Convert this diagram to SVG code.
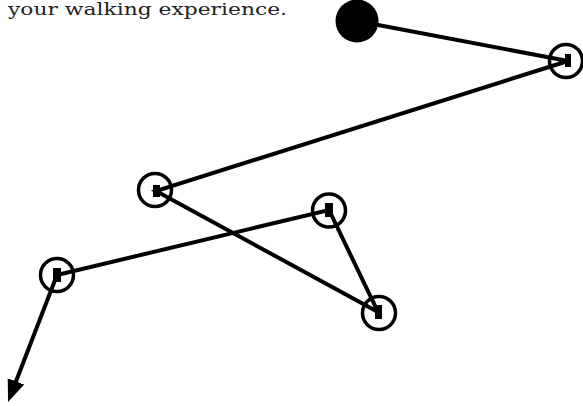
<svg xmlns="http://www.w3.org/2000/svg" width="583" height="406" viewBox="0 0 583 406">
<style>
.edge{stroke:#000;stroke-width:4;fill:none}
.ring{fill:#fff;stroke:#000;stroke-width:3.5}
.pt{fill:#000}
.lbl{font-family:"DejaVu Serif",serif;font-size:16px;fill:#222}
</style>
<defs>
<marker id="arr" viewBox="0 0 10 10" refX="5" refY="5" markerWidth="5.5" markerHeight="5.5" markerUnits="strokeWidth" orient="auto">
<path d="M0,1 L10,5 L0,9 z" fill="#000"/>
</marker>
</defs>
<text class="lbl" x="8" y="15" textLength="279" lengthAdjust="spacingAndGlyphs">your walking experience.</text>
<g id="n-start"><circle cx="357" cy="21" r="21.5" fill="#000"/></g>
<g id="n1"><circle class="ring" cx="566" cy="61" r="16.5"/></g>
<g id="n2"><circle class="ring" cx="155" cy="190" r="16.5"/></g>
<g id="n3"><circle class="ring" cx="329" cy="210.5" r="16.5"/></g>
<g id="n4"><circle class="ring" cx="57" cy="275" r="16.5"/></g>
<g id="n5"><circle class="ring" cx="379" cy="313" r="16.5"/></g>
<g id="connectors">
<polyline class="edge" points="357,21 568,61 156,191 378,312 329,210 57,275"/>
<line class="edge" x1="57" y1="275" x2="12" y2="391.7" marker-end="url(#arr)"/>
<rect class="pt" x="565" y="54" width="6" height="13"/>
<rect class="pt" x="153" y="185" width="7" height="12"/>
<rect class="pt" x="325" y="203" width="8" height="14"/>
<rect class="pt" x="53" y="268" width="8" height="14"/>
<rect class="pt" x="375" y="305" width="7" height="14"/>
</g>
</svg>
